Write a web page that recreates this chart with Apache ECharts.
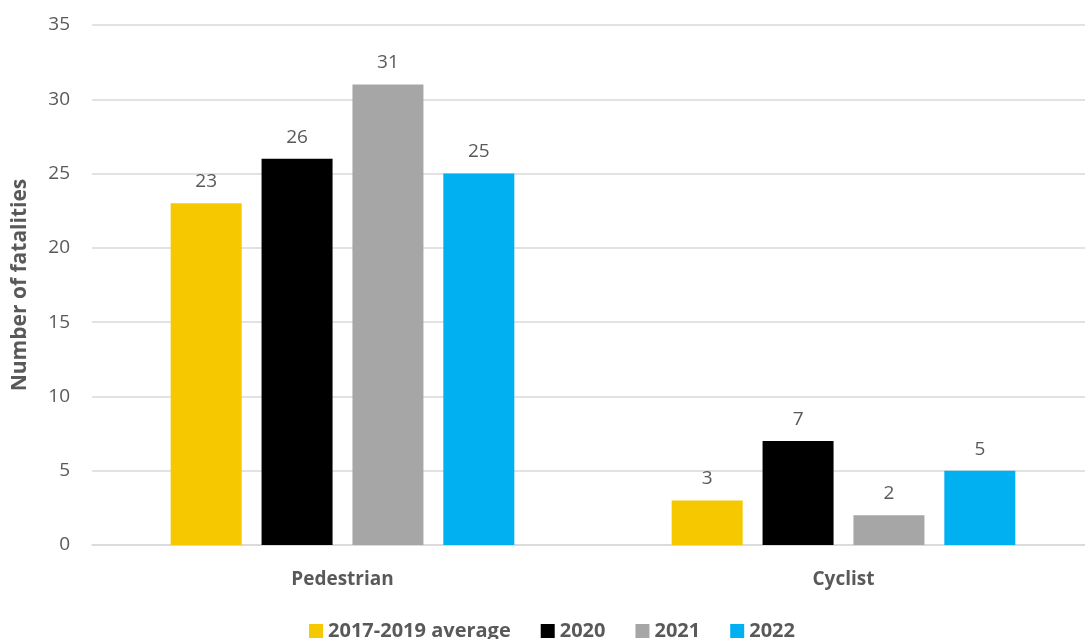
<!DOCTYPE html>
<html>
<head>
<meta charset="utf-8">
<script src="https://cdn.jsdelivr.net/npm/echarts@6/dist/echarts.min.js"></script>
<style>
  html, body { margin: 0; padding: 0; background: #fff; overflow: hidden; }
  #chart { width: 1104px; height: 639px; }
</style>
</head>
<body>
<div id="chart"></div>
<script>
const categories = ['Pedestrian', 'Cyclist']
const seriesNames = ['2017-2019 average', '2020', '2021', '2022']
const avg2017to2019 = [23, 3]
const year2020 = [26, 7]
const year2021 = [31, 2]
const year2022 = [25, 5]
const colors = ['#f5c800', '#000000', '#a6a6a6', '#00b0f0']

const allValues = [avg2017to2019, year2020, year2021, year2022]
const textColor = '#595959'
const font = '"Open Sans", "Noto Sans", sans-serif'

// chart div is a bit wider than the window: the plot runs past the right edge
const chart = echarts.init(document.getElementById('chart'), null, { renderer: 'canvas' })

chart.setOption({
  animation: false,
  color: colors,
  textStyle: { fontFamily: font },
  grid: {
    left: 92,
    top: 25,
    width: 1002,
    height: 520
  },
  legend: {
    top: 616,
    left: 'center',
    itemWidth: 14,
    itemHeight: 14,
    itemGap: 30,
    icon: 'rect',
    textStyle: { color: textColor, fontSize: 20, fontWeight: 'bold', fontFamily: font },
    data: seriesNames
  },
  xAxis: {
    type: 'category',
    data: categories,
    axisLine: { lineStyle: { color: '#d9d9d9', width: 1.5 } },
    axisTick: { show: false },
    axisLabel: { color: textColor, fontSize: 19, fontWeight: 'bold', margin: 25, fontFamily: font }
  },
  yAxis: {
    type: 'value',
    min: 0,
    max: 35,
    interval: 5,
    name: 'Number of fatalities',
    nameLocation: 'middle',
    nameGap: 61,
    nameTextStyle: { color: textColor, fontSize: 21, fontWeight: 'bold', fontFamily: font },
    axisLine: { show: false },
    axisTick: { show: false },
    axisLabel: { color: textColor, fontSize: 19, margin: 22, fontFamily: font },
    splitLine: { lineStyle: { color: '#d9d9d9', width: 1.5 } }
  },
  series: seriesNames.map((name, i) => ({
    name: name,
    type: 'bar',
    data: allValues[i],
    barWidth: 71,
    barGap: '28%',
    label: {
      show: true,
      position: 'top',
      distance: 12,
      color: textColor,
      fontSize: 19,
      fontFamily: font
    }
  }))
})
</script>
</body>
</html>
